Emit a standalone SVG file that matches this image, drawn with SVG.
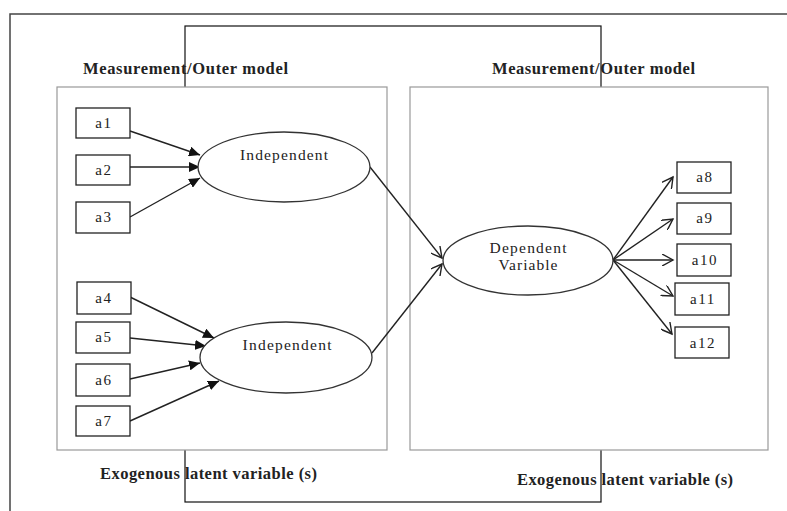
<svg xmlns="http://www.w3.org/2000/svg" width="787" height="511" viewBox="0 0 787 511">
<defs>
<style>
.frame{fill:none;stroke:#444;stroke-width:1.5}
.inner{fill:none;stroke:#111;stroke-width:1.2}
.panel{fill:#fff;stroke:#999;stroke-width:1.2}
.box{fill:#fff;stroke:#222;stroke-width:1.3}
.ell{fill:#fff;stroke:#333;stroke-width:1.3}
.lbl{font-family:"Liberation Serif","Times New Roman",serif;font-size:15px;fill:#222;text-anchor:middle;letter-spacing:1.6px}
.title{font-family:"Liberation Serif","Times New Roman",serif;font-size:16.5px;font-weight:bold;fill:#222}
.node-text{font-family:"Liberation Serif","Times New Roman",serif;font-size:15.5px;fill:#222;text-anchor:middle}
.arr{stroke:#222;stroke-width:1.4;fill:none}
</style>
<marker id="solid" markerUnits="userSpaceOnUse" markerWidth="12" markerHeight="10" refX="11" refY="5" orient="auto">
<path d="M0,0 L11,5 L0,10 Z" fill="#111"/>
</marker>
<marker id="open" markerUnits="userSpaceOnUse" markerWidth="13" markerHeight="12" refX="11" refY="6" orient="auto">
<path d="M0,0 L11,6 L0,12" fill="none" stroke="#222" stroke-width="1.4"/>
</marker>
</defs>

<g id="frame">
<path class="frame" d="M10,511 V14 H787"/>
<rect class="inner" x="185" y="26" width="416" height="476"/>
</g>

<g id="panel-left">
<rect class="panel" x="57" y="87" width="330" height="363"/>
</g>
<g id="panel-right">
<rect class="panel" x="410" y="87" width="358" height="363"/>
</g>

<g id="titles">
<text class="title" x="83" y="74" textLength="205" lengthAdjust="spacing">Measurement/Outer  model</text>
<text class="title" x="492" y="74" textLength="203" lengthAdjust="spacing">Measurement/Outer model</text>
<text class="title" x="100" y="479" textLength="217" lengthAdjust="spacing">Exogenous latent variable (s)</text>
<text class="title" x="517" y="485" textLength="216" lengthAdjust="spacing">Exogenous latent variable (s)</text>
</g>

<g id="connectors">
<line class="arr" x1="130" y1="131" x2="200" y2="155" marker-end="url(#solid)"/>
<line class="arr" x1="130" y1="167" x2="200" y2="167" marker-end="url(#solid)"/>
<line class="arr" x1="130" y1="217" x2="200" y2="178" marker-end="url(#solid)"/>
<line class="arr" x1="130" y1="297" x2="214" y2="338" marker-end="url(#solid)"/>
<line class="arr" x1="130" y1="338" x2="206" y2="346" marker-end="url(#solid)"/>
<line class="arr" x1="130" y1="379" x2="200" y2="363" marker-end="url(#solid)"/>
<line class="arr" x1="130" y1="421" x2="219" y2="381" marker-end="url(#solid)"/>
<line class="arr" x1="370" y1="167" x2="442" y2="258" marker-end="url(#open)"/>
<line class="arr" x1="372" y1="353" x2="442" y2="264" marker-end="url(#open)"/>
<line class="arr" x1="613" y1="260" x2="673" y2="177" marker-end="url(#open)"/>
<line class="arr" x1="613" y1="260" x2="673" y2="219" marker-end="url(#open)"/>
<line class="arr" x1="613" y1="260" x2="673" y2="260" marker-end="url(#open)"/>
<line class="arr" x1="613" y1="260" x2="673" y2="296" marker-end="url(#open)"/>
<line class="arr" x1="613" y1="260" x2="672" y2="334" marker-end="url(#open)"/>
</g>

<g id="ind1"><ellipse class="ell" cx="284" cy="167" rx="86" ry="35"/><text class="node-text" x="284" y="160" textLength="88" lengthAdjust="spacing">Independent</text></g>
<g id="ind2"><ellipse class="ell" cx="286" cy="357.5" rx="86" ry="35.5"/><text class="node-text" x="287" y="350" textLength="89" lengthAdjust="spacing">Independent</text></g>
<g id="dep"><ellipse class="ell" cx="528" cy="260.5" rx="85" ry="34.5"/><text class="node-text" x="528" y="253" textLength="77" lengthAdjust="spacing">Dependent</text><text class="node-text" x="528" y="270" textLength="59" lengthAdjust="spacing">Variable</text></g>

<g id="a1"><rect class="box" x="76" y="108" width="54" height="30"/><text class="lbl" x="104" y="128">a1</text></g>
<g id="a2"><rect class="box" x="76" y="155" width="54" height="30"/><text class="lbl" x="104" y="175">a2</text></g>
<g id="a3"><rect class="box" x="76" y="202" width="54" height="31"/><text class="lbl" x="104" y="222">a3</text></g>
<g id="a4"><rect class="box" x="77" y="282" width="54" height="32"/><text class="lbl" x="104" y="303">a4</text></g>
<g id="a5"><rect class="box" x="76" y="322" width="54" height="31"/><text class="lbl" x="104" y="342">a5</text></g>
<g id="a6"><rect class="box" x="76" y="364" width="54" height="32"/><text class="lbl" x="104" y="385">a6</text></g>
<g id="a7"><rect class="box" x="76" y="406" width="54" height="30"/><text class="lbl" x="104" y="426">a7</text></g>

<g id="a8"><rect class="box" x="677" y="162" width="54" height="31"/><text class="lbl" x="705" y="182">a8</text></g>
<g id="a9"><rect class="box" x="677" y="203" width="54" height="31"/><text class="lbl" x="705" y="223">a9</text></g>
<g id="a10"><rect class="box" x="677" y="244" width="54" height="32"/><text class="lbl" x="705" y="265">a10</text></g>
<g id="a11"><rect class="box" x="675" y="283" width="54" height="32"/><text class="lbl" x="703" y="304">a11</text></g>
<g id="a12"><rect class="box" x="675" y="327" width="54" height="31"/><text class="lbl" x="703" y="348">a12</text></g>
</svg>
